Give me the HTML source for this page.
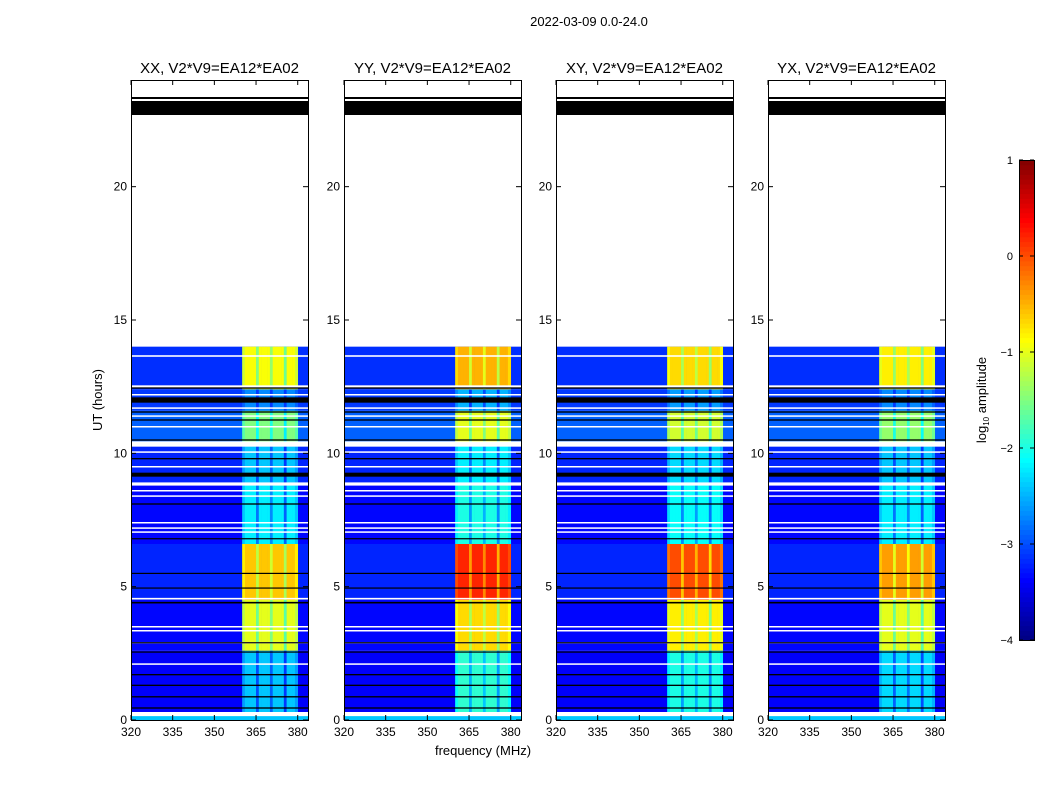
<!DOCTYPE html>
<html><head><meta charset="utf-8"><style>
body{margin:0;background:#fff;font-family:"Liberation Sans",sans-serif}
svg{display:block}
text{font-family:"Liberation Sans",sans-serif;fill:#000}
</style></head><body>
<svg id="fig" width="1050" height="800" viewBox="0 0 1050 800" xmlns="http://www.w3.org/2000/svg">
<rect width="1050" height="800" fill="#fff"/>
<text x="589" y="26" font-size="13" text-anchor="middle">2022-03-09 0.0-24.0</text>
<text x="102" y="400" font-size="13" text-anchor="middle" transform="rotate(-90 102 400)">UT (hours)</text>
<text x="483" y="755" font-size="13" text-anchor="middle">frequency (MHz)</text>
<g id="panels"></g>
<g id="cbar"></g>
</svg>
<script>
// ---- data ----
const panelTitles = ["XX, V2*V9=EA12*EA02","YY, V2*V9=EA12*EA02","XY, V2*V9=EA12*EA02","YX, V2*V9=EA12*EA02"];
const segStarts = [0.3, 2.6, 4.5, 6.6, 8.8, 10.3, 11.6, 12.4];
const segEnds   = [2.6, 4.5, 6.6, 8.8, 10.3, 11.6, 12.4, 14.0];
const bandXX = [-2.4, -1.0, -0.6, -2.2, -2.4, -1.5, -2.7, -0.9];
const bandYY = [-1.9, -0.7,  0.2, -2.0, -2.2, -1.0, -2.5, -0.5];
const bandXY = [-2.0, -0.8,  0.0, -2.1, -2.3, -1.1, -2.6, -0.7];
const bandYX = [-2.3, -1.0, -0.4, -2.2, -2.4, -1.4, -2.7, -0.8];
const bgLevel = [-3.4, -3.35, -3.2, -3.35, -3.2, -2.9, -3.1, -3.15];
const bandFreqs = [360, 380];
const dipFreqs = [365, 370, 375];
const dipDepth = [0.6, 0.5, 0.7];
const whiteHours = [13.65, 12.5, 12.2, 11.7, 11.4, 11.0, 10.35, 10.05, 9.5, 8.85, 8.6, 8.4, 7.4, 7.2, 7.05, 4.55, 3.5, 3.35, 2.9, 2.1, 0.22];
const whiteWidth = [0.06,0.1,0.05,0.05,0.05,0.05,0.2,0.05,0.05,0.12,0.05,0.05,0.05,0.05,0.05,0.06,0.05,0.05,0.05,0.05,0.15];
const blackHours = [12.45, 12.0, 11.55, 11.25, 10.5, 9.8, 9.2, 8.1, 6.8, 5.5, 4.95, 4.4, 2.9, 2.55, 1.7, 1.3, 0.87, 0.45];
const blackWidth = [0.05,0.2,0.05,0.05,0.05,0.05,0.15,0.05,0.04,0.04,0.04,0.06,0.04,0.04,0.05,0.05,0.05,0.05];
const xTicks = [320, 335, 350, 365, 380];
const yTicks = [0, 5, 10, 15, 20];
const cbTicks = [1, 0, -1, -2, -3, -4];
const cbLabels = ["1","0","\u22121","\u22122","\u22123","\u22124"];
const bands = [bandXX, bandYY, bandXY, bandYX];
// ---- layout ----
const NS="http://www.w3.org/2000/svg";
const panelX=[131,344,556,768], PW=177, PT=80, PB=720;
const fMin=320, fMax=383.7, hMin=0, hMax=24;
function jet(v){let t=(v+4)/5;t=Math.max(0,Math.min(1,t));
 const f=x=>Math.max(0,Math.min(1,x));
 const r=f(1.5-Math.abs(4*t-3)),g=f(1.5-Math.abs(4*t-2)),b=f(1.5-Math.abs(4*t-1));
 return `rgb(${Math.round(r*255)},${Math.round(g*255)},${Math.round(b*255)})`;}
function mk(tag,attrs,parent){const e=document.createElementNS(NS,tag);for(const k in attrs)e.setAttribute(k,attrs[k]);parent.appendChild(e);return e;}
const root=document.getElementById('panels');
const yS=h=>PB-(h-hMin)/(hMax-hMin)*(PB-PT);
panelX.forEach((px,pi)=>{
 const xS=f=>px+(f-fMin)/(fMax-fMin)*PW;
 const g=mk('g',{},root);
 
 
 const heat=mk('g',{},g);
 
 
 segStarts.forEach((s,si)=>{
  const e=segEnds[si], y1=yS(e), y0=yS(s);
  const bgR=mk('rect',{x:px,y:y1,width:PW,height:y0-y1,fill:jet(bgLevel[si])},heat);
  
  
  for(let f=bandFreqs[0];f<bandFreqs[1];f++){
   let v=bands[pi][si];
   const di=dipFreqs.indexOf(f); if(di>=0) v-=dipDepth[di];
   if(f===bandFreqs[0]||f===bandFreqs[1]-1) v-=0.2;
   v=Math.max(v,bgLevel[si]);
   const c=mk('rect',{x:xS(f),y:y1,width:xS(f+1)-xS(f)+0.3,height:y0-y1,fill:jet(v)},heat);
   
   
  }
 });
 const low=mk('rect',{x:px,y:yS(0.15),width:PW,height:yS(0)-yS(0.15),fill:jet(-2.4)},heat);
 
 
 whiteHours.forEach((h,i)=>{const w=whiteWidth[i];
  const r=mk('rect',{x:px,y:yS(h+w/2),width:PW,height:Math.max(1.5,yS(h-w/2)-yS(h+w/2)),fill:'#fff'},heat);
  
  });
 blackHours.forEach((h,i)=>{const w=blackWidth[i];
  const r=mk('rect',{x:px,y:yS(h+w/2),width:PW,height:Math.max(1.2,yS(h-w/2)-yS(h+w/2)),fill:'#000'},heat);
  
  });
 const tb1=mk('rect',{x:px,y:97,width:PW,height:2,fill:'#000'},g);
 
 
 const tb2=mk('rect',{x:px,y:101,width:PW,height:14,fill:'#000'},g);
 
 
 const fr=mk('rect',{x:px+0.5,y:PT+0.5,width:PW,height:PB-PT,fill:'none',stroke:'#000','stroke-width':1},g);
 
 
 const t=mk('text',{x:px+PW/2,y:73,'font-size':15,'text-anchor':'middle'},g);
 t.textContent=panelTitles[pi];
 
 
 xTicks.forEach(f=>{const x=xS(f);
  mk('line',{x1:x,x2:x,y1:PB,y2:PB-5,stroke:'#000'},g);
  mk('line',{x1:x,x2:x,y1:PT,y2:PT+5,stroke:'#000'},g);
  const l=mk('text',{x:x,y:PB+16,'font-size':12,'text-anchor':'middle'},g);l.textContent=f;
  
  });
 yTicks.forEach(h=>{const y=yS(h);
  mk('line',{x1:px,x2:px+5,y1:y,y2:y,stroke:'#000'},g);
  mk('line',{x1:px+PW,x2:px+PW-5,y1:y,y2:y,stroke:'#000'},g);
  const l=mk('text',{x:px-4,y:y+4,'font-size':12,'text-anchor':'end'},g);l.textContent=h;
  
  });
});
const cb=document.getElementById('cbar');
const CX=1019,CW=15,CT=160,CB=640;
const cbY=v=>CB-(v+4)/5*(CB-CT);
for(let i=0;i<100;i++){const v0=-4+i*0.05;
 mk('rect',{x:CX,y:cbY(v0+0.05),width:CW,height:(CB-CT)/100+0.5,fill:jet(v0+0.025)},cb);}
mk('rect',{x:CX+0.5,y:CT+0.5,width:CW,height:CB-CT,fill:'none',stroke:'#000'},cb);
cbTicks.forEach((v,i)=>{const y=cbY(v);
 mk('line',{x1:CX,x2:CX+4,y1:y,y2:y,stroke:'#000'},cb);
 mk('line',{x1:CX+CW,x2:CX+CW-4,y1:y,y2:y,stroke:'#000'},cb);
 const l=mk('text',{x:CX-6,y:y+4,'font-size':11,'text-anchor':'end'},cb);l.textContent=cbLabels[i];
 
 });
const cl=mk('text',{x:986,y:400,'font-size':13,'text-anchor':'middle',transform:'rotate(-90 986 400)'},cb);
cl.innerHTML='log<tspan font-size="8" dy="3">10</tspan><tspan dy="-3"> amplitude</tspan>';


</script>
</body></html>
